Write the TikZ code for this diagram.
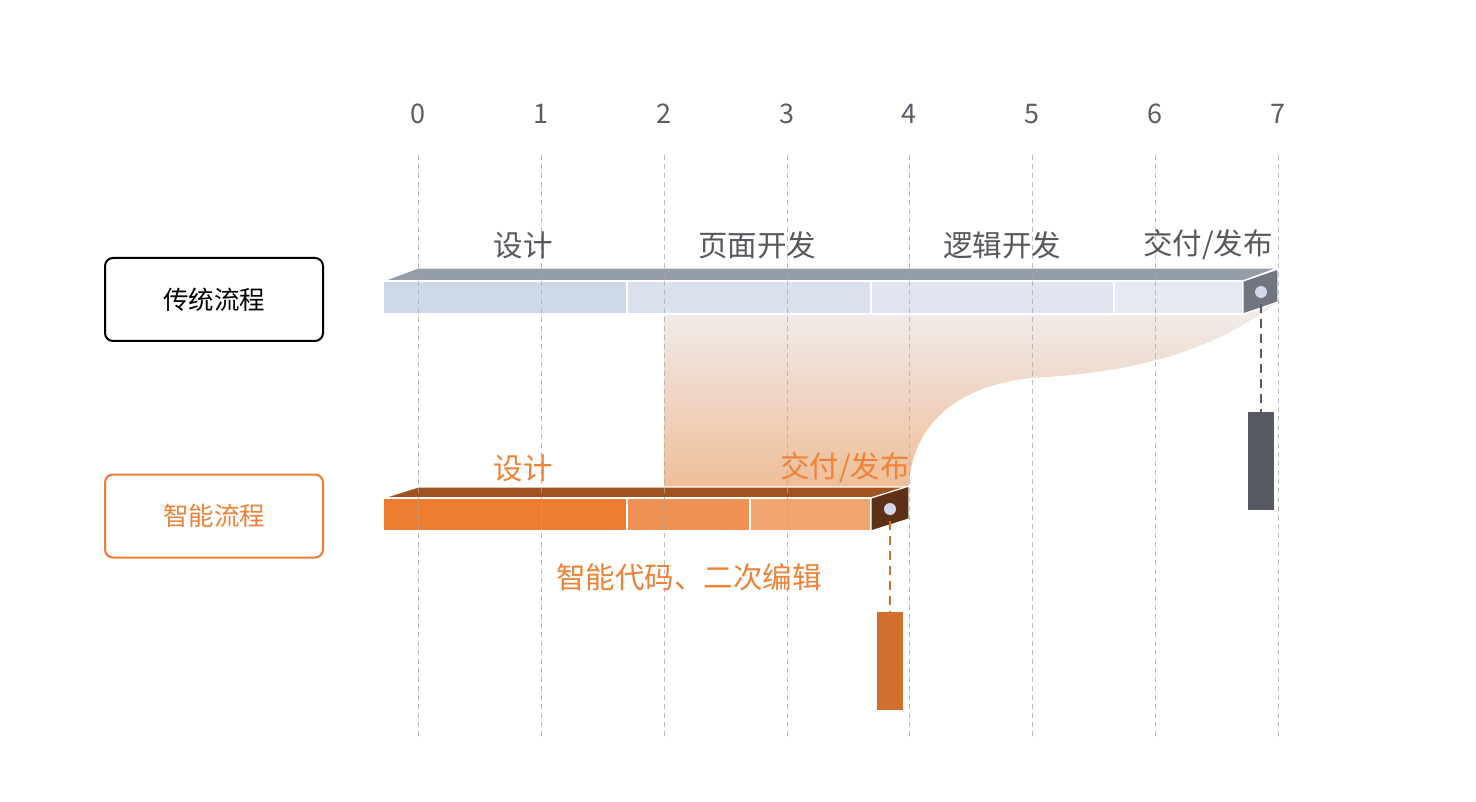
\documentclass[tikz,border=0pt]{standalone}
\usepackage{fontspec}
\setmainfont{Noto Sans CJK SC}
\definecolor{gridgray}{HTML}{A8A8A8}
\definecolor{numgray}{HTML}{5A5E66}
\definecolor{labgray}{HTML}{55595F}
\definecolor{tTop}{HTML}{939EA9}
\definecolor{tEnd}{HTML}{70767F}
\definecolor{tA}{HTML}{CDD9E8}
\definecolor{tB}{HTML}{DAE0ED}
\definecolor{tC}{HTML}{DFE4EF}
\definecolor{tD}{HTML}{E5E9F2}
\definecolor{dotc}{HTML}{D0D8EA}
\definecolor{oTop}{HTML}{A0531F}
\definecolor{oEnd}{HTML}{5E3116}
\definecolor{oA}{HTML}{ED7D31}
\definecolor{oB}{HTML}{EF9152}
\definecolor{oC}{HTML}{F2A56E}
\definecolor{oText}{HTML}{EE8236}
\definecolor{darkrect}{HTML}{575A62}
\definecolor{orect}{HTML}{D0702C}
\definecolor{gradtop}{HTML}{F1EEEE}
\definecolor{gradbot}{HTML}{EFBE98}
\begin{document}
\begin{tikzpicture}[x=1pt,y=-1pt,
  gridline/.style={gridgray,line width=1pt,dash pattern=on 5pt off 4pt},
  numlab/.style={text=numgray,font=\fontsize{27}{30}\selectfont,inner sep=0pt},
  graylab/.style={text=labgray,font=\fontsize{29.5}{32}\selectfont,inner sep=0pt},
  orlab/.style={text=oText,font=\fontsize{29.5}{32}\selectfont,inner sep=0pt},
  face/.style={draw=white,line width=1.2pt,line join=round},
  procbox/.style={rounded corners=8pt,line width=2pt,minimum width=218pt,minimum height=83pt,font=\fontsize{25.5}{28}\selectfont},
  enddot/.style={circle,fill=dotc,inner sep=0pt,minimum size=12pt},
  conn/.style={line width=2pt,dash pattern=on 9pt off 6pt}]
\useasboundingbox (0,0) rectangle (1476,802);
\fill[white] (0,0) rectangle (1476,802);

% gradient flow shape
\shade[top color=gradtop,bottom color=gradbot]
  (664,302) -- (1278,302) .. controls (1220,345) and (1150,372) .. (1030,378)
  .. controls (930,390) and (910,450) .. (909,487) -- (664,487) -- cycle;

% traditional bar
\fill[face,fill=tTop] (383,281) -- (418,268) -- (1278,268) -- (1243,281) -- cycle;
\fill[face,fill=tA] (383,281) rectangle (627,314);
\fill[face,fill=tB] (627,281) rectangle (871,314);
\fill[face,fill=tC] (871,281) rectangle (1114,314);
\fill[face,fill=tD] (1114,281) rectangle (1243,314);
\filldraw[face,fill=tEnd] (1243,281) -- (1278,269) -- (1278,302) -- (1243,314) -- cycle;
\draw[white,line width=1.2pt] (383,281) -- (1243,281);

% smart bar
\fill[face,fill=oTop] (383,498) -- (418,487) -- (909,487) -- (871,498) -- cycle;
\fill[face,fill=oA] (383,498) rectangle (627,531);
\fill[face,fill=oB] (627,498) rectangle (750,531);
\fill[face,fill=oC] (750,498) rectangle (871,531);
\filldraw[face,fill=oEnd] (871,498) -- (909,486) -- (909,519) -- (871,531) -- cycle;
\draw[white,line width=1.2pt] (383,498) -- (871,498);

% grid
\foreach \i/\x in {0/418,1/541,2/664,3/787,4/909,5/1032,6/1155,7/1278}{
  \node[numlab] (n\i) at (\x,114) {\i};
  \draw[gridline,opacity=0.75] (\x,155) -- (\x,740);
}

% end dots, connectors and rectangles
\node[enddot] (tdot) at (1261,292) {};
\node[fill=darkrect,minimum width=26pt,minimum height=98pt,inner sep=0pt] (trect) at (1261,461) {};
\draw[conn,darkrect] ([yshift=-6pt]tdot.south) -- (trect.north);

\node[enddot] (odot) at (890,509) {};
\node[fill=orect,minimum width=26pt,minimum height=98pt,inner sep=0pt] (orect) at (890,661) {};
\draw[conn,orect] ([yshift=-6pt]odot.south) -- (orect.north);

% labels
\node[graylab] (l1) at (523,245) {设计};
\node[graylab] (l2) at (757,245) {页面开发};
\node[graylab] (l3) at (1002,245) {逻辑开发};
\node[graylab] (l4) at (1208,245) {交付/发布};
\node[orlab] (m1) at (523,468) {设计};
\node[orlab] (m2) at (845,468) {交付/发布};
\node[orlab] (m3) at (689,577) {智能代码、二次编辑};

% process boxes
\node[procbox,draw=black,text=black] (trad) at (214,299.5) {传统流程};
\node[procbox,draw=oA,text=oText] (smart) at (214,516) {智能流程};
\end{tikzpicture}
\end{document}
